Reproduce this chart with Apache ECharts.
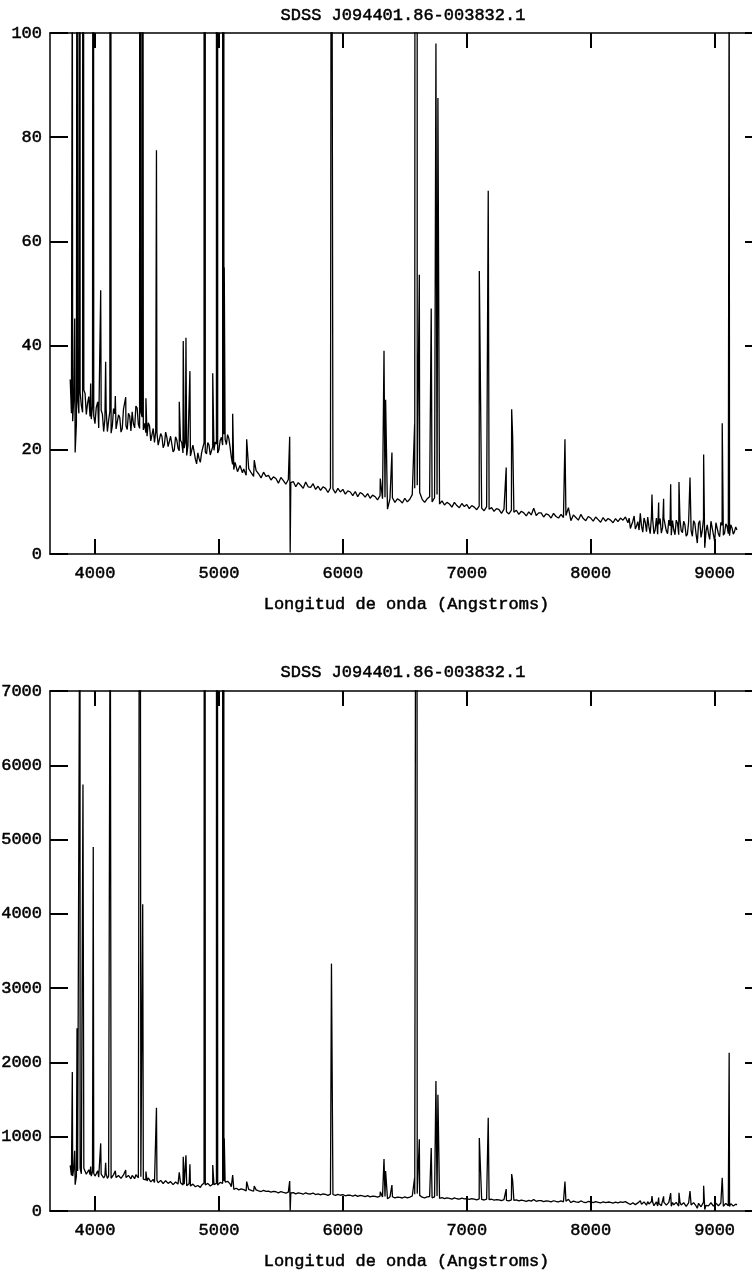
<!DOCTYPE html>
<html>
<head>
<meta charset="utf-8">
<title>SDSS J094401.86-003832.1</title>
<script src="https://cdn.jsdelivr.net/npm/echarts@6/dist/echarts.min.js"></script>
<style>
  html, body {margin:0; padding:0; background:#fff;}
  #chart {width:752px; height:1272px;}
</style>
</head>
<body>
<div id="chart"></div>
<script type="text/javascript">
// wavelength grid of the continuum (Angstroms)
var wave = [
  3800,3820,3840,3860,3880,3900,3920,3940,3960,3980,
  4000,4020,4040,4060,4080,4100,4120,4140,4160,4180,
  4200,4220,4240,4260,4280,4300,4320,4340,4360,4380,
  4400,4420,4440,4460,4480,4500,4520,4540,4560,4580,
  4600,4620,4640,4660,4680,4700,4720,4740,4760,4780,
  4800,4820,4840,4860,4880,4900,4920,4940,4960,4980,
  5000,5020,5040,5060,5080,5100,5120,5140,5160,5180,
  5200,5220,5240,5260,5280,5300,5320,5340,5360,5380,
  5400,5420,5440,5460,5480,5500,5520,5540,5560,5580,
  5600,5620,5640,5660,5680,5700,5720,5740,5760,5780,
  5800,5820,5840,5860,5880,5900,5920,5940,5960,5980,
  6000,6020,6040,6060,6080,6100,6120,6140,6160,6180,
  6200,6220,6240,6260,6280,6300,6320,6340,6360,6380,
  6400,6420,6440,6460,6480,6500,6520,6540,6560,6580,
  6600,6620,6640,6660,6680,6700,6720,6740,6760,6780,
  6800,6820,6840,6860,6880,6900,6920,6940,6960,6980,
  7000,7020,7040,7060,7080,7100,7120,7140,7160,7180,
  7200,7220,7240,7260,7280,7300,7320,7340,7360,7380,
  7400,7420,7440,7460,7480,7500,7520,7540,7560,7580,
  7600,7620,7640,7660,7680,7700,7720,7740,7760,7780,
  7800,7820,7840,7860,7880,7900,7920,7940,7960,7980,
  8000,8020,8040,8060,8080,8100,8120,8140,8160,8180,
  8200,8220,8240,8260,8280,8300,8320,8340,8360,8380,
  8400,8420,8440,8460,8480,8500,8520,8540,8560,8580,
  8600,8620,8640,8660,8680,8700,8720,8740,8760,8780,
  8800,8820,8840,8860,8880,8900,8920,8940,8960,8980,
  9000,9020,9040,9060,9080,9100,9120,9140,9160,9180
];

// continuum flux, upper plot (0-100)
var fluxTop = [
  33.5,25.5,19.5,29.5,31.0,27.2,30.8,28.9,26.4,28.3,
  25.0,27.9,23.9,26.8,25.9,23.5,27.4,24.6,26.9,23.8,
  26.2,24.1,27.6,23.9,26.5,27.3,24.2,28.0,24.1,26.3,
  25.1,22.6,24.6,22.0,21.4,23.3,20.7,22.6,21.0,22.4,
  20.8,22.3,20.0,21.9,19.8,21.4,20.3,18.9,21.0,19.1,
  19.6,17.3,18.3,19.4,21.3,19.2,20.9,18.8,19.9,21.1,
  20.0,22.4,23.0,21.0,22.2,18.6,16.2,17.4,15.9,16.9,
  16.3,15.1,16.4,15.6,14.9,16.0,15.4,14.6,15.7,14.9,
  15.1,14.2,14.8,14.5,13.6,14.7,14.1,13.4,14.3,13.7,
  13.9,12.9,13.7,13.2,12.6,13.8,12.9,12.8,13.5,12.4,
  13.0,12.2,12.9,12.6,11.8,12.7,12.5,11.7,12.6,11.9,
  12.4,11.5,12.1,11.9,11.2,12.0,11.0,11.8,11.5,10.9,
  11.6,10.7,11.3,11.0,10.4,11.2,10.6,10.9, 8.6,10.6,
  10.8, 9.9,10.6,10.3, 9.8,10.7,10.0,10.5,11.4,12.6,
  13.2,11.8,10.5, 9.9,10.6,11.0,10.0,10.8,11.4, 9.6,
  10.2, 9.4, 9.9, 9.6, 9.0, 9.9, 9.3, 8.9, 9.7, 9.1,
   9.5, 8.7, 9.3, 9.0, 8.5, 9.2, 8.8, 8.3, 9.1, 8.6,
   8.9, 8.2, 8.7, 8.5, 7.8, 8.6, 8.1, 7.7, 8.4, 8.0,
   8.4, 7.6, 8.2, 7.9, 7.3, 8.1, 7.5, 8.8, 7.4, 7.9,
   7.9, 7.1, 7.7, 7.5, 6.9, 7.8, 7.2, 6.9, 7.6, 7.0,
   7.4, 8.9, 6.4, 7.5, 7.0, 6.5, 7.6, 6.8, 6.4, 7.2,
   6.9, 6.3, 7.1, 6.6, 6.1, 7.0, 6.3, 6.8, 6.5, 6.0,
   6.8, 6.2, 6.9, 6.5, 7.1, 6.0, 4.9, 6.3, 4.8, 6.2,
   7.8, 4.2, 6.1, 7.1, 3.9, 6.6, 4.6, 3.8, 6.8, 5.1,
   6.7, 3.9, 5.4, 6.4, 3.7, 5.9, 6.6, 4.1, 5.6, 3.8,
   6.2, 3.4, 5.9, 2.1, 6.4, 4.5, 1.2, 5.6, 2.8, 6.1,
   2.4, 5.7, 3.3, 5.5, 4.0, 5.3, 3.5, 5.0, 4.3, 4.6
];

// continuum flux, lower plot (0-7000)
var fluxBottom = [
  615,470,355,540,575,505,560,520,490,530,
  470,505,450,490,475,440,480,455,485,435,
  470,430,480,445,465,480,435,470,430,455,
  440,405,430,398,385,410,372,400,378,395,
  372,392,360,385,355,378,362,340,370,345,
  352,315,330,346,378,345,368,338,355,372,
  360,395,405,376,384,328,292,306,284,298,
  288,272,290,279,266,284,272,262,278,265,
  268,254,264,259,244,262,250,241,254,243,
  248,231,244,236,226,245,230,229,240,222,
  230,218,229,224,211,226,222,210,223,212,
  220,205,215,212,200,214,197,210,204,195,
  206,191,201,196,186,199,189,194,165,189,
  192,177,188,183,175,190,178,187,202,224,
  234,210,186,177,189,195,178,191,202,171,
  180,167,176,171,161,176,165,159,172,162,
  168,155,165,160,151,163,156,148,161,153,
  158,146,154,151,139,152,144,137,149,142,
  149,135,145,140,130,144,133,156,131,140,
  140,126,136,133,122,138,128,123,135,124,
  131,157,114,133,124,116,135,121,114,128,
  122,112,126,117,108,124,112,121,115,107,
  120,110,122,115,126,106, 88,111, 86,109,
  138, 75,108,126, 70,117, 82, 68,121, 91,
  119, 70, 96,114, 66,105,117, 73,100, 68,
  110, 61,105, 37,114, 80, 21,100, 50,108,
   43,101, 59, 98, 71, 94, 62, 89, 76, 82
];

// extra samples where the spectrum is noisiest (blue end and far red)
var waveFine = [
  3810,3830,3850,3870,3890,3910,3930,3950,3970,3990,
  4010,4030,4050,4070,4090,4110,4130,4150,4170,4190,
  4210,4230,4250,4270,4290,4310,4330,4350,4370,4390,
  4410,4430,4450,4470,4490,4510,4530,4550,4570,4590,
  4610,4630,4650,4670,4690,4710,4730,4750,4770,4790,
  4810,4830,4850,4870,4890,4910,4930,4950,4970,4990,
  5010,5030,5050,5070,5090,5110,5130,5150,5170,5190,
  8310,8330,8350,8370,8390,
  8410,8430,8450,8470,8490,8510,8530,8550,8570,8590,
  8610,8630,8650,8670,8690,8710,8730,8750,8770,8790,
  8810,8830,8850,8870,8890,8910,8930,8950,8970,8990,
  9010,9030,9050,9070,9090,9110,9130,9150,9170
];
var fineTop = [
  27.0,30.5,25.0,27.0,28.5,31.5,26.8,30.2,25.9,26.5,
  28.1,24.2,27.6,23.5,27.8,25.6,23.2,27.9,24.0,26.7,
  23.4,27.8,24.6,27.0,23.6,25.0,28.4,24.9,27.3,23.8,
  23.3,25.2,21.7,24.1,23.5,20.9,23.1,20.4,23.4,20.6,
  22.6,19.6,22.5,20.3,21.8,19.4,21.6,20.8,18.8,20.9,
  18.2,19.4,17.6,20.4,19.6,21.4,19.0,20.6,21.5,19.4,
  21.8,20.9,22.0,22.9,20.5,17.2,17.6,15.8,17.0,15.6,
   6.9, 5.6, 7.3, 5.4, 4.6,
   5.3, 6.9, 4.3, 5.2, 7.2, 3.9, 6.9, 5.7, 4.0, 6.9,
   4.4, 6.5, 3.6, 4.6, 6.5, 3.7, 4.5, 6.3, 3.4, 6.2,
   4.5, 6.4, 3.8, 5.9, 3.2, 6.8, 4.3, 3.9, 6.3, 3.7,
   6.0, 3.9, 6.1, 3.6, 5.8, 3.9, 5.6, 3.8, 5.2
];
var fineBottom = [
  480,590,470,525,500,575,495,555,470,505,
  500,455,495,445,500,470,440,490,450,478,
  440,485,450,478,432,456,488,447,462,430,
  420,445,392,425,410,380,412,370,408,372,
  395,355,390,362,380,350,375,365,338,362,
  326,343,318,360,350,372,336,360,378,348,
  385,372,390,400,365,305,310,282,300,280,
  118, 96,125, 92, 84,
   92,122, 78, 95,128, 71,122,101, 72,120,
   79,116, 64, 83,116, 67, 81,112, 61,110,
   80,113, 68,104, 57,120, 77, 70,111, 66,
  106, 70,108, 64,103, 70, 99, 68, 92
];

// emission lines (and the 5577 sky residual): wavelength and peak flux in each plot
var lineWave = [
  3817,3836,3855,3879,3903,3965,3986,4022,4046,4086,
  4123,4164,4248,4363,4385,4411,4496,4680,4712,4734,
  4766,4885,4950,4982,5035,5043,5111,5224,5285,5571,
  5575,5908,6302,6332,6345,6396,6579,6596,6617,6713,
  6751,6767,7101,7173,7318,7362,7370,7792,8494,8548,
  8588,8645,8712,8801,8911,9061,9117
];
var lineTop = [
  120,45.2,160,420,320,32.7,272,29.2,50.6,36.9,
  450,30.3,30.1,850,229,29.9,77.5,29.2,40.9,41.5,
  35.1,1800,34.7,2400,7000,55,26.9,22,18,22.5,
  0.3,185,14.5,39,29.6,19.5,24.9,1100,53.6,47.1,
  98,87.5,54.3,69.7,16.6,27.8,22.6,22,11.4,9.9,
  10.6,13.4,13.8,14.7,19.1,25.1,118
];
var lineBottom = [
  1870,810,2460,9500,5740,600,4900,540,910,650,
  9000,540,552,15000,4130,530,1390,520,730,750,
  630,32000,620,43000,126000,980,485,395,336,404,
  5,3330,260,700,538,350,448,20000,965,848,
  1750,1565,982,1256,296,498,408,395,200,180,
  197,242,246,269,341,448,2130
];

var xTicks = [4000, 5000, 6000, 7000, 8000, 9000];
var titleText = 'SDSS J094401.86-003832.1';
var xName = 'Longitud de onda (Angstroms)';

if (wave.length !== fluxTop.length || wave.length !== fluxBottom.length ||
    waveFine.length !== fineTop.length || waveFine.length !== fineBottom.length ||
    lineWave.length !== lineTop.length || lineWave.length !== lineBottom.length) {
  throw new Error('length mismatch ' + [wave.length, fluxTop.length, fluxBottom.length,
    waveFine.length, fineTop.length, fineBottom.length,
    lineWave.length, lineTop.length, lineBottom.length].join(' '));
}

// continuum + extra samples + lines, sorted by wavelength
function spectrum(cont, fine, peaks) {
  var pts = wave.map(function (w, i) { return [w, cont[i]]; });
  waveFine.forEach(function (w, i) { pts.push([w, fine[i]]); });
  lineWave.forEach(function (w, i) { pts.push([w, peaks[i]]); });
  pts.sort(function (a, b) { return a[0] - b[0]; });
  return pts;
}

var FONT = 'Liberation Mono';
var ink = '#000';
// slight outline so the mono text looks as heavy as the plot's
var txt = {fontFamily: FONT, fontSize: 17, color: ink, textBorderColor: ink, textBorderWidth: 0.5};
function plain(v) { return String(v); }

function xAxes(grid, bottom) {
  return {
    type: 'value', gridIndex: grid, position: bottom ? 'bottom' : 'top',
    min: 3637, max: 9390,
    name: bottom ? xName : '', nameLocation: 'middle', nameGap: 42,
    nameTextStyle: txt,
    axisLine: {show: true, onZero: false, lineStyle: {color: ink, width: 1.5}},
    axisTick: {show: true, inside: true, length: 15, customValues: xTicks, lineStyle: {color: ink, width: 2}},
    axisLabel: Object.assign({show: bottom, customValues: xTicks, margin: 11, formatter: plain}, txt),
    splitLine: {show: false}
  };
}
function yAxes(grid, left, max, step) {
  return {
    type: 'value', gridIndex: grid, position: left ? 'left' : 'right',
    min: 0, max: max, interval: step,
    axisLine: {show: true, onZero: false, lineStyle: {color: ink, width: 1.5}},
    axisTick: {show: true, inside: true, length: 18, lineStyle: {color: ink, width: 2}},
    axisLabel: Object.assign({show: left, margin: 8, formatter: plain}, txt),
    splitLine: {show: false}
  };
}

var chart = echarts.init(document.getElementById('chart'), null, {renderer: 'canvas'});
chart.setOption({
  animation: false,
  backgroundColor: '#fff',
  grid: [
    {left: 50, right: -11, top: 33, height: 521, outerBoundsMode: 'none', containLabel: false},
    {left: 50, right: -11, top: 691, height: 520, outerBoundsMode: 'none', containLabel: false}
  ],
  graphic: [
    {type: 'text', x: 403, y: 15, style: {text: titleText, font: '17px "' + FONT + '"', fill: ink,
      stroke: ink, lineWidth: 0.5, textAlign: 'center', textVerticalAlign: 'middle'}},
    {type: 'text', x: 403, y: 672, style: {text: titleText, font: '17px "' + FONT + '"', fill: ink,
      stroke: ink, lineWidth: 0.5, textAlign: 'center', textVerticalAlign: 'middle'}}
  ],
  xAxis: [xAxes(0, true), xAxes(0, false), xAxes(1, true), xAxes(1, false)],
  yAxis: [yAxes(0, true, 100, 20), yAxes(0, false, 100, 20), yAxes(1, true, 7000, 1000), yAxes(1, false, 7000, 1000)],
  series: [
    {type: 'line', xAxisIndex: 0, yAxisIndex: 0, data: spectrum(fluxTop, fineTop, lineTop),
     showSymbol: false, clip: true, lineStyle: {color: ink, width: 1.3}},
    {type: 'line', xAxisIndex: 2, yAxisIndex: 2, data: spectrum(fluxBottom, fineBottom, lineBottom),
     showSymbol: false, clip: true, lineStyle: {color: ink, width: 1.3}}
  ]
});
</script>
</body>
</html>
